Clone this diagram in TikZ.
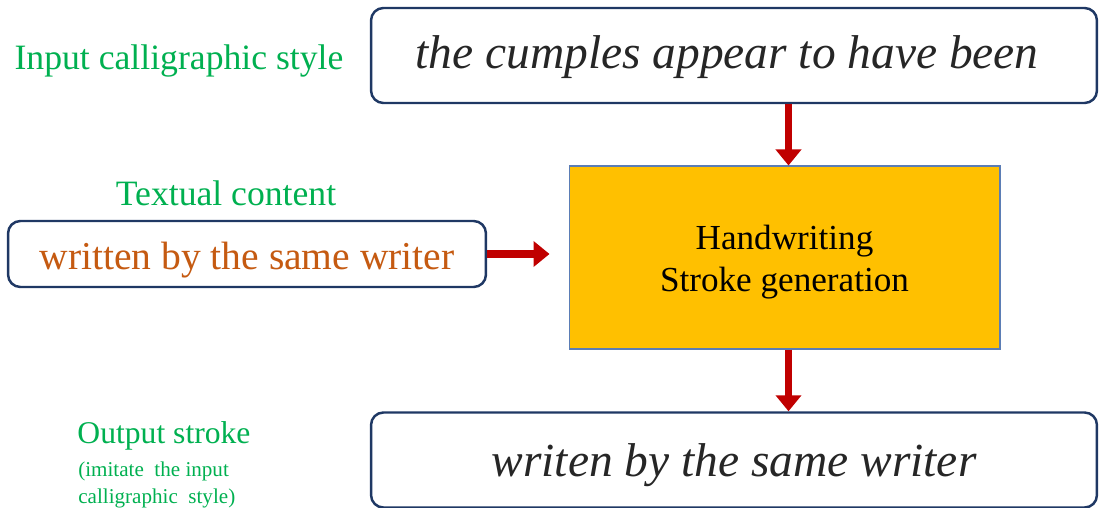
\documentclass[tikz,border=0pt]{standalone}
\usepackage{fontspec}
\setmainfont{Liberation Serif}
\usetikzlibrary{positioning,arrows.meta}
\definecolor{cverde}{HTML}{00B050}
\definecolor{cnaranja}{HTML}{C55A11}
\definecolor{cmarino}{HTML}{1F3864}
\definecolor{crojo}{HTML}{C00000}
\definecolor{camarillo}{HTML}{FFC000}
\definecolor{cborde}{HTML}{5B7DB5}
\tikzset{
  caja/.style={rectangle, rounded corners=7pt, draw=cmarino, line width=1.4pt, fill=white,
    minimum width=14.52cm, minimum height=1.9cm},
  cajat/.style={caja, minimum width=9.56cm, minimum height=1.32cm},
  bloque/.style={rectangle, draw=cborde, line width=0.6pt, fill=camarillo,
    minimum width=8.62cm, minimum height=3.66cm},
  flecha/.style={-{Triangle[length=0.32cm, width=0.5cm]}, line width=4.5pt, draw=crojo},
  etq/.style={text=cverde, font=\fontsize{20.3}{24}\selectfont},
  etqp/.style={text=cverde, align=left, font=\fontsize{12}{15.3}\selectfont},
  mano/.style={font=\fontsize{27}{32}\selectfont\itshape, text=black!85},
}

\begin{document}
\begin{tikzpicture}[x=0.02cm, y=-0.02cm]
  \clip (0,0) rectangle (1101,507);
  % boxes
  \node[caja] (in) at (734,55.5) {};
  \node[mano] (tin) at ([xshift=-4pt,yshift=-1pt]in.center) {the cumples appear to have been};
  \node[cajat] (txt) at (247,254) {};
  \node[text=cnaranja, font=\fontsize{22.5}{26}\selectfont] (ttxt) at ([yshift=-0.12cm]txt.center) {written by the same writer};
  \node[bloque] (gen) at (784.5,257.5) {};
  \node[align=center, font=\fontsize{20}{24}\selectfont] (tgen) at ([yshift=-0.1cm]gen.center) {Handwriting\\Stroke generation};
  \node[caja] (out) at (734,460) {};
  \node[mano] (tout) at ([yshift=-3pt]out.center) {writen by the same writer};
  % labels
  \node[etq] (lin) at (179,61) {Input calligraphic style};
  \node[etq] (ltxt) at (226,193) {Textual content};
  \node[etq, font=\fontsize{18}{22}\selectfont] (lout) at (164,436) {Output stroke};
  \node[etqp, anchor=north west, inner sep=0pt] (lnota) at (78,462) {(imitate\ \ the input\\calligraphic\ \ style)};
  % arrows
  \draw[flecha] ([xshift=0.08cm]in.south -| gen.north) -- ([xshift=0.08cm]gen.north);
  \draw[flecha, shorten >=0.38cm] (txt.east) -- (txt.east -| gen.west);
  \draw[flecha] ([xshift=0.08cm]gen.south) -- ([xshift=0.08cm]gen.south |- out.north);
\end{tikzpicture}
\end{document}
